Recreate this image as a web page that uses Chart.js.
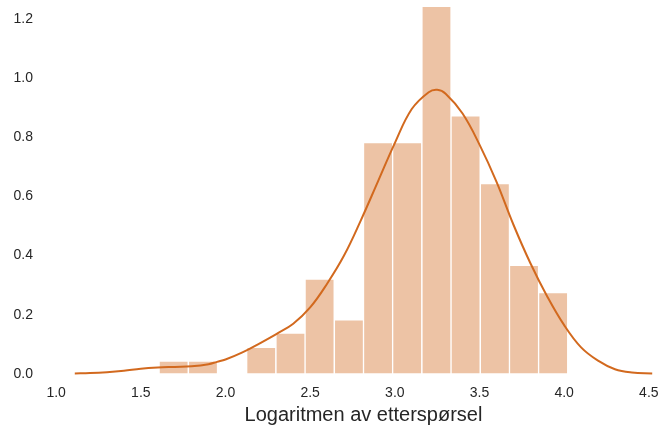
<!DOCTYPE html>
<html>
<head>
<meta charset="utf-8">
<script src="https://cdn.jsdelivr.net/npm/chart.js@4/dist/chart.umd.min.js"></script>
<style>
  html, body { margin: 0; padding: 0; background: #ffffff; overflow: hidden; }
  #wrap { width: 660px; height: 432px; overflow: hidden; }
</style>
</head>
<body>
<div id="wrap"><canvas id="DistChart" width="681" height="432"></canvas></div>
<script>
// histogram bins (centres) and densities
const binCenters = [1.694, 1.867, 2.039, 2.211, 2.384, 2.556, 2.729, 2.901, 3.073, 3.246, 3.418, 3.591, 3.763, 3.935];
const binDensity = [0.044, 0.044, 0.0, 0.090, 0.138, 0.321, 0.183, 0.782, 0.782, 1.242, 0.872, 0.643, 0.367, 0.275];

// kde curve
const kdeX = [1.11, 1.20, 1.30, 1.40, 1.50, 1.60, 1.70, 1.80, 1.90, 1.95, 2.00, 2.10, 2.20, 2.30, 2.40, 2.50,
              2.60, 2.70, 2.80, 2.90, 3.00, 3.10, 3.20, 3.25, 3.30, 3.40, 3.50, 3.60, 3.70, 3.80, 3.90,
              4.00, 4.10, 4.20, 4.30, 4.40, 4.52];
const kdeY = [0.002, 0.003, 0.006, 0.011, 0.018, 0.022, 0.024, 0.026, 0.033, 0.041, 0.049, 0.073, 0.103, 0.135, 0.170, 0.225,
              0.305, 0.400, 0.520, 0.650, 0.780, 0.895, 0.952, 0.960, 0.947, 0.880, 0.775, 0.650, 0.505, 0.375, 0.262,
              0.165, 0.090, 0.045, 0.016, 0.005, 0.002];

const xTicks = [1.0, 1.5, 2.0, 2.5, 3.0, 3.5, 4.0, 4.5];
const yTicks = [0.0, 0.2, 0.4, 0.6, 0.8, 1.0, 1.2];

const line_color = '#d2691e';
const bar_color  = '#edc3a5';
const text_color = '#262626';

const ctx = document.getElementById('DistChart').getContext('2d');
const chart = new Chart(ctx, {
  type: 'bar',
  data: {
    datasets: [{
      type: 'line',
      data: kdeX.map((x, i) => ({ x: x, y: kdeY[i] })),
      borderColor: line_color,
      borderWidth: 2,
      pointRadius: 0,
      tension: 0.4,
      fill: false,
      clip: false,
      order: 0
    }, {
      type: 'bar',
      data: binCenters.map((x, i) => ({ x: x, y: binDensity[i] })),
      backgroundColor: bar_color,
      borderColor: 'rgba(255,255,255,0.7)',
      borderWidth: 1,
      borderSkipped: false,
      barPercentage: 1,
      categoryPercentage: 1,
      order: 1
    }]
  },
  options: {
    responsive: false,
    animation: false,
    layout: { padding: { top: 1, right: 0, left: 0, bottom: 0 } },
    plugins: { legend: { display: false }, tooltip: { enabled: false } },
    scales: {
      x: {
        type: 'linear',
        min: 0.94,
        max: 4.69,
        offset: false,
        border: { display: false },
        grid: { display: false, drawTicks: false, offset: false },
        afterBuildTicks: (s) => { s.ticks = xTicks.map(v => ({ value: v })); },
        afterFit: (s) => { s.height = 58; s.paddingLeft = 0; s.paddingRight = 0; },
        ticks: {
          color: text_color,
          padding: 11,
          maxRotation: 0,
          font: { family: 'Liberation Sans', size: 14 },
          callback: (v) => Number(v).toFixed(1)
        },
        title: {
          display: true,
          text: 'Logaritmen av etterspørsel',
          color: text_color,
          padding: { top: 0, bottom: 7 },
          font: { family: 'Liberation Sans', size: 20, lineHeight: 1.0 }
        }
      },
      y: {
        min: 0,
        max: 1.26,
        border: { display: false },
        grid: { display: false, drawTicks: false },
        afterBuildTicks: (s) => { s.ticks = yTicks.map(v => ({ value: v })); },
        afterFit: (s) => { s.width = 46; s.paddingTop = 0; s.paddingBottom = 0; },
        ticks: {
          color: text_color,
          padding: 13,
          font: { family: 'Liberation Sans', size: 14 },
          callback: (v) => Number(v).toFixed(1)
        }
      }
    }
  }
});
</script>
</body>
</html>
